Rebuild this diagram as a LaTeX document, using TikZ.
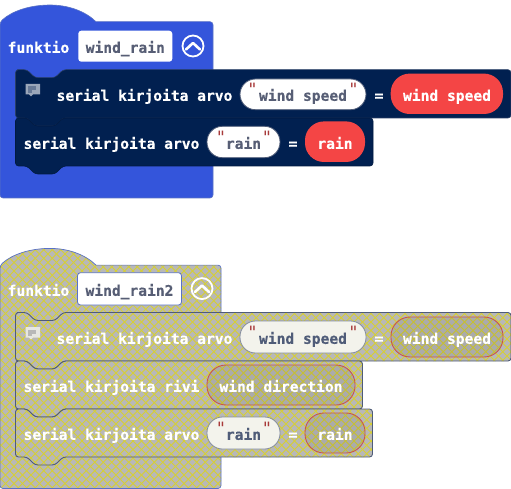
\documentclass[tikz,border=0pt]{standalone}
\usepackage{fontspec}
\newfontfamily\blockfont{DejaVu Sans Mono}[BoldFont={DejaVu Sans Mono Bold},BoldFeatures={FakeBold=0.35}]
\definecolor{funcblue}{HTML}{3455DB}
\definecolor{funcedge}{HTML}{5A72C4}
\definecolor{navy}{HTML}{012050}
\definecolor{navyedge}{HTML}{2A3F66}
\definecolor{redpill}{HTML}{F44545}
\definecolor{txtgray}{HTML}{575E75}
\definecolor{hatchbg}{HTML}{B8B8B8}
\definecolor{hatchline}{HTML}{D6CF35}
\definecolor{slate}{HTML}{4F5C78}
\definecolor{paper}{HTML}{F3F3EC}
\definecolor{quotered}{HTML}{A83A3A}
\definecolor{redline}{HTML}{C9544F}
\newcommand{\funcshape}[3]{% right, top offset, bottom
  [rounded corners=3pt] (0,#2+30) -- (0,#2+22) [sharp corners] .. controls (12,#2+11) and (30,#2+5) .. (50,#2+5) .. controls (68,#2+5) and (85,#2+11) .. (96,#2+21.7) [rounded corners=3pt] -- (#1,#2+21.7) -- (#1,#3) -- (0,#3) -- cycle}
\newcommand{\blockshape}[3]{% right, top, bottom
  [rounded corners=3pt] (20,#2) -- (27,#2) -- (35,#2+8) -- (55,#2+8) -- (63,#2) -- (#1,#2) -- (#1,#3) -- (63,#3) -- (55,#3+8) -- (35,#3+8) -- (27,#3) -- (15.5,#3) -- (15.5,#2) -- cycle}
\tikzset{
  x=1pt,y=-1pt,
  label/.style={font=\blockfont\bfseries\fontsize{14.6}{16}\selectfont,text=white,inner sep=0pt,anchor=base,yshift=-0.8pt},
  fieldtxt/.style={label,text=txtgray},
  quotemark/.style={font=\blockfont\fontsize{17}{18}\selectfont,text=quotered,inner sep=0pt,anchor=base},
  stringpill/.style={draw=#1,line width=0.8pt,fill=white,rounded corners=15.5pt},
  stringpill/.default=slate,
  namefield/.style={fill=white,rounded corners=3pt},
  hatchstroke/.style={hatchline,line width=0.8pt},
}
\begin{document}
\begin{tikzpicture}
\useasboundingbox (0,0) rectangle (511,489);
% ---------- upper function ----------
\path[fill=funcblue,draw=funcedge,line width=0.6pt] \funcshape{213}{0}{198};
\path[fill=navy,draw=navyedge,line width=0.6pt] \blockshape{511}{69.7}{118};
\path[fill=navy,draw=navy!80!black,line width=0.6pt] \blockshape{373}{118}{166};
\node[label] (f1) at (38.5,52) {funktio};
\fill[namefield] (78.3,30.7) rectangle (172.3,61.7);
\node[fieldtxt] (n1) at (125.3,52) {wind\_rain};
\draw[white,line width=1.8pt] (193,46) circle (10.5);
\draw[white,line width=2.6pt,line cap=round,line join=round] (186,49.5) -- (193,43) -- (200,49.5);
% comment icon
\fill[white!60!navy] (25.5,84) -- (40,84) -- (40,94.5) -- (33,94.5) -- (31,96.5) -- (29,94.5) -- (25.5,94.5) -- cycle;
\fill[navy!60!white] (28,86.5) rectangle (35.5,90.5);
\fill[navy!60!white] (28,90.5) rectangle (32,93);
\node[label] (a1) at (144.5,100) {serial kirjoita arvo};
\draw[stringpill] (240,79) rectangle (366,109.7);
\node[fieldtxt] (s1) at (303,100) {wind speed};
\node[quotemark] (q1) at (252.5,95.2) {"};
\node[quotemark] (q2) at (353.5,95.2) {"};
\node[label] (e1) at (379,100) {=};
\fill[redpill,rounded corners=19pt] (390.7,73.6) rectangle (503,114);
\node[label] (v1) at (447,100) {wind speed};
\node[label] (a2) at (111.5,148) {serial kirjoita arvo};
\draw[stringpill] (207,126.3) rectangle (280,157.7);
\node[fieldtxt] (s2) at (243.5,148) {rain};
\node[quotemark] (q3) at (221,143.2) {"};
\node[quotemark] (q4) at (267,143.2) {"};
\node[label] (e2) at (293,148) {=};
\fill[redpill,rounded corners=19pt] (305,121.4) rectangle (365,162);
\node[label] (v2) at (335,148) {rain};
% ---------- lower function (hatched) ----------
\begin{scope}
  \clip \funcshape{221}{243.4}{488.5};
  \fill[hatchbg] (0,240) rectangle (225,489);
  \foreach \k in {-40,...,30}{
    \draw[hatchstroke] (\k*8.5,240) -- ++(260,260);
    \draw[hatchstroke] (\k*8.5+300,240) -- ++(-260,260);
  }
\end{scope}
\draw[funcedge,line width=0.7pt] \funcshape{221}{243.4}{488.5};
\foreach \t/\b/\r in {312.5/361/511,361/409/362.5,409/457/372.5}{
  \begin{scope}
    \clip \blockshape{\r}{\t}{\b};
    \fill[hatchbg] (0,300) rectangle (511,470);
    \foreach \k in {-40,...,60}{
      \draw[hatchstroke] (\k*8.5,240) -- ++(260,260);
      \draw[hatchstroke] (\k*8.5+300,240) -- ++(-260,260);
    }
  \end{scope}
  \draw[slate,line width=0.9pt] \blockshape{\r}{\t}{\b};
}
\node[label] (f2) at (38.5,295) {funktio};
\fill[namefield,draw=funcedge,line width=0.8pt] (77.5,272.7) rectangle (181.5,305);
\node[fieldtxt] (n2) at (129.5,295) {wind\_rain2};
\draw[white,line width=1.8pt] (202,288.6) circle (10.5);
\draw[white,line width=2.6pt,line cap=round,line join=round] (195,292) -- (202,285.5) -- (209,292);
\fill[paper!80!hatchbg] (25.5,327) -- (40,327) -- (40,337.5) -- (33,337.5) -- (31,339.5) -- (29,337.5) -- (25.5,337.5) -- cycle;
\fill[hatchbg] (28,329.5) rectangle (35.5,333.5);
\fill[hatchbg] (28,333.5) rectangle (32,336);
\node[label] (a3) at (144.5,343) {serial kirjoita arvo};
\draw[stringpill=slate!70!white,fill=paper] (240,321) rectangle (366,353);
\node[fieldtxt,text=slate] (s3) at (303,343) {wind speed};
\node[quotemark] (q5) at (252.5,338.2) {"};
\node[quotemark] (q6) at (353.5,338.2) {"};
\node[label] (e3) at (379,343) {=};
\fill[black,opacity=0.07,rounded corners=19pt] (391,317) rectangle (503,357);
\draw[redline,line width=0.9pt,rounded corners=19pt] (391,317) rectangle (503,357);
\node[label] (v3) at (447,343) {wind speed};
\node[label] (a4) at (111.5,391) {serial kirjoita rivi};
\fill[black,opacity=0.07,rounded corners=19pt] (207,365) rectangle (355,405);
\draw[redline,line width=0.9pt,rounded corners=19pt] (207,365) rectangle (355,405);
\node[label] (v4) at (281,391) {wind direction};
\node[label] (a5) at (111.5,439) {serial kirjoita arvo};
\draw[stringpill=slate!70!white,fill=paper] (207,417) rectangle (280,449);
\node[fieldtxt,text=slate] (s5) at (243.5,439) {rain};
\node[quotemark] (q7) at (221,434.2) {"};
\node[quotemark] (q8) at (267,434.2) {"};
\node[label] (e5) at (293,439) {=};
\fill[black,opacity=0.07,rounded corners=19pt] (305,413) rectangle (365,453);
\draw[redline,line width=0.9pt,rounded corners=19pt] (305,413) rectangle (365,453);
\node[label] (v5) at (335,439) {rain};
\end{tikzpicture}
\end{document}
